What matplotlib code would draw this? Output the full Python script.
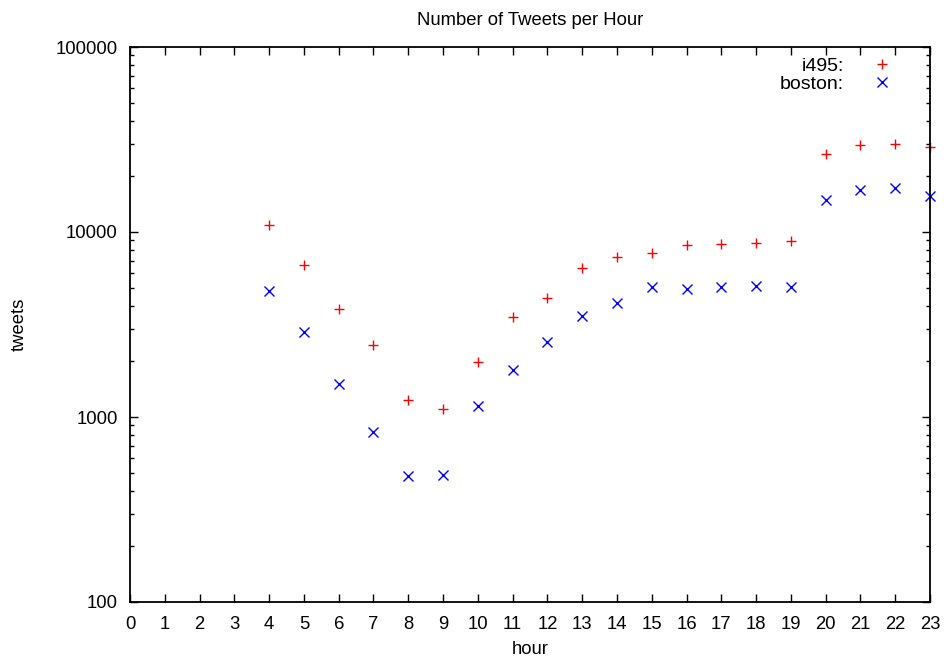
import matplotlib
matplotlib.use("Agg")
import matplotlib.pyplot as plt
from matplotlib.ticker import LogLocator, NullFormatter, FixedLocator

plt.rcParams['font.family'] = ['Liberation Sans', 'DejaVu Sans']

hours = list(range(4, 24))
i495 = [10900, 6640, 3840, 2450, 1240, 1105, 1980, 3470, 4400, 6380,
        7320, 7700, 8510, 8610, 8730, 8940, 26400, 29500, 29900, 28800]
boston = [4800, 2880, 1510, 830, 480, 486, 1146, 1795, 2540, 3520,
          4130, 5040, 4920, 5040, 5100, 5040, 14900, 16900, 17300, 15700]
xticks = list(range(0, 24))

fig = plt.figure(figsize=(9.44, 6.6), dpi=100)
ax = fig.add_axes([130/944, 1-602/660, 800/944, 555/660])

ax.plot(hours, i495, linestyle='none', marker='+', color='#ff0000',
        markersize=7, markeredgewidth=1.0, label='i495:', clip_on=False)
ax.plot(hours, boston, linestyle='none', marker='x', color='#0000ff',
        markersize=6.5, markeredgewidth=1.0, label='boston:', clip_on=False)

ax.set_yscale('log')
ax.set_ylim(100, 100000)
ax.set_xlim(0, 23)
ax.xaxis.set_major_locator(FixedLocator(xticks))
ax.set_xticklabels([str(x) for x in xticks])
ax.yaxis.set_minor_locator(LogLocator(base=10, subs=range(2, 10), numticks=20))
ax.yaxis.set_minor_formatter(NullFormatter())
ax.set_yticks([100, 1000, 10000, 100000])
ax.set_yticklabels(['100', '1000', '10000', '100000'])

ax.tick_params(which='both', direction='in', top=True, right=True,
               labelsize=13.3, width=1, color='black')
ax.tick_params(which='major', length=6)
ax.tick_params(axis='x', which='major', pad=10)
ax.tick_params(axis='y', which='major', pad=9)
ax.tick_params(which='minor', length=3)
for s in ax.spines.values():
    s.set_linewidth(1.3)

ax.set_xlabel('hour', fontsize=13.3, labelpad=6)
ax.set_ylabel('tweets', fontsize=13.3, labelpad=20)
ax.set_title('Number of Tweets per Hour', fontsize=13.3, pad=16)

ax.legend(loc='upper right', frameon=False, markerfirst=False, fontsize=14,
          handlelength=2.3, handletextpad=0.8, borderaxespad=0.3,
          labelspacing=0.0, bbox_to_anchor=(0.985, 1.006))

fig.savefig('out.png', dpi=100)
